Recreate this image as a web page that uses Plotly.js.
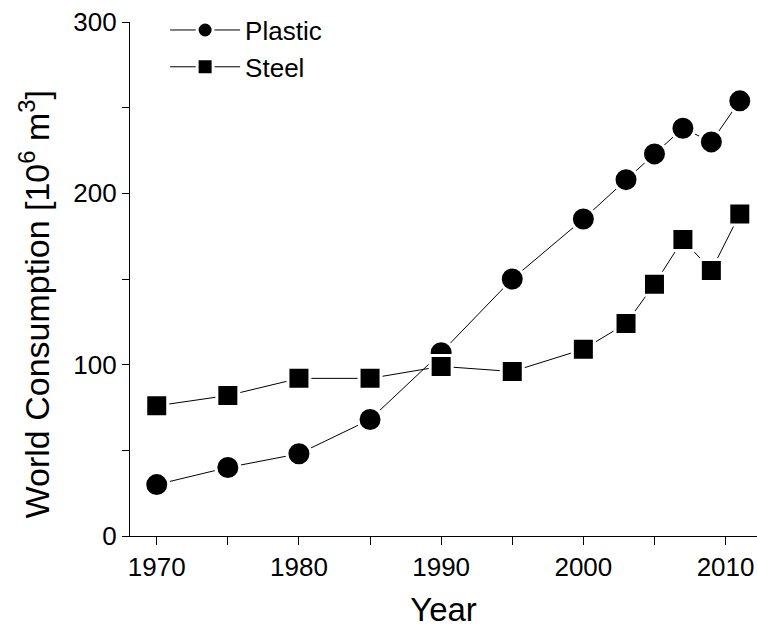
<!DOCTYPE html>
<html>
<head>
<meta charset="utf-8">
<script src="https://cdn.plot.ly/plotly-3.0.1.min.js"></script>
<style>html,body{margin:0;padding:0;background:#fff;}#chart{width:757px;height:628px;}</style>
</head>
<body>
<div id="chart"></div>
<script>
const years = [1970, 1975, 1980, 1985, 1990, 1995, 2000, 2003, 2005, 2007, 2009, 2011];
const plastic = [30, 40, 48, 68, 107, 150, 185, 208, 223, 238, 230, 254];
const steel = [76, 82, 92, 92, 99, 96, 109, 124, 147, 173, 155, 188];
const xTickVals = [1970, 1975, 1980, 1985, 1990, 1995, 2000, 2005, 2010];
const xTickText = ['1970', '', '1980', '', '1990', '', '2000', '', '2010'];
const yTickVals = [0, 50, 100, 150, 200, 250, 300];
const yTickText = ['0', '', '100', '', '200', '', '300'];
const yTitle = 'World Consumption [10<sup>6</sup> m<sup>3</sup>]';

const font = 'Liberation Sans, Arial, sans-serif';
const traces = [
  {x: years, y: plastic, name: 'Plastic', mode: 'lines+markers', type: 'scatter',
   line: {color: '#000', width: 1},
   marker: {symbol: 'circle', size: 24, color: '#000', line: {color: '#fff', width: 3}}},
  {x: years, y: steel, name: 'Steel', mode: 'lines+markers', type: 'scatter',
   line: {color: '#000', width: 1},
   marker: {symbol: 'square', size: 22, color: '#000', line: {color: '#fff', width: 3}}}
];
const layout = {
  width: 757, height: 628,
  margin: {l: 130, r: 0, t: 22, b: 92},
  paper_bgcolor: '#fff', plot_bgcolor: '#fff',
  font: {family: font, color: '#000', size: 26},
  showlegend: true,
  legend: {x: 0.056, y: 1.03, xanchor: 'left', yanchor: 'top', bgcolor: 'rgba(0,0,0,0)',
           font: {size: 26, family: font}, itemwidth: 70, tracegroupgap: 0},
  xaxis: {range: [1968.12, 2012.21], tickvals: xTickVals, ticktext: xTickText,
          showgrid: false, zeroline: false, showline: true, linecolor: '#000', linewidth: 1.3,
          ticks: 'outside', ticklen: 8, tickwidth: 1.3, tickcolor: '#000',
          tickfont: {size: 26, family: font},
          title: {text: 'Year', font: {size: 33, family: font}, standoff: 17}},
  yaxis: {range: [0, 300], tickvals: yTickVals, ticktext: yTickText,
          showgrid: false, zeroline: false, showline: true, linecolor: '#000', linewidth: 1.3,
          ticks: 'outside', ticklen: 7, tickwidth: 1.3, tickcolor: '#000',
          tickfont: {size: 26, family: font}},
  annotations: [{text: yTitle, textangle: -90, xref: 'paper', yref: 'paper',
                 x: -0.152, y: 0.45, xanchor: 'center', yanchor: 'middle', showarrow: false,
                 font: {size: 34, family: font, color: '#000'}}]
};
Plotly.newPlot('chart', traces, layout, {displayModeBar: false});
</script>
</body>
</html>
